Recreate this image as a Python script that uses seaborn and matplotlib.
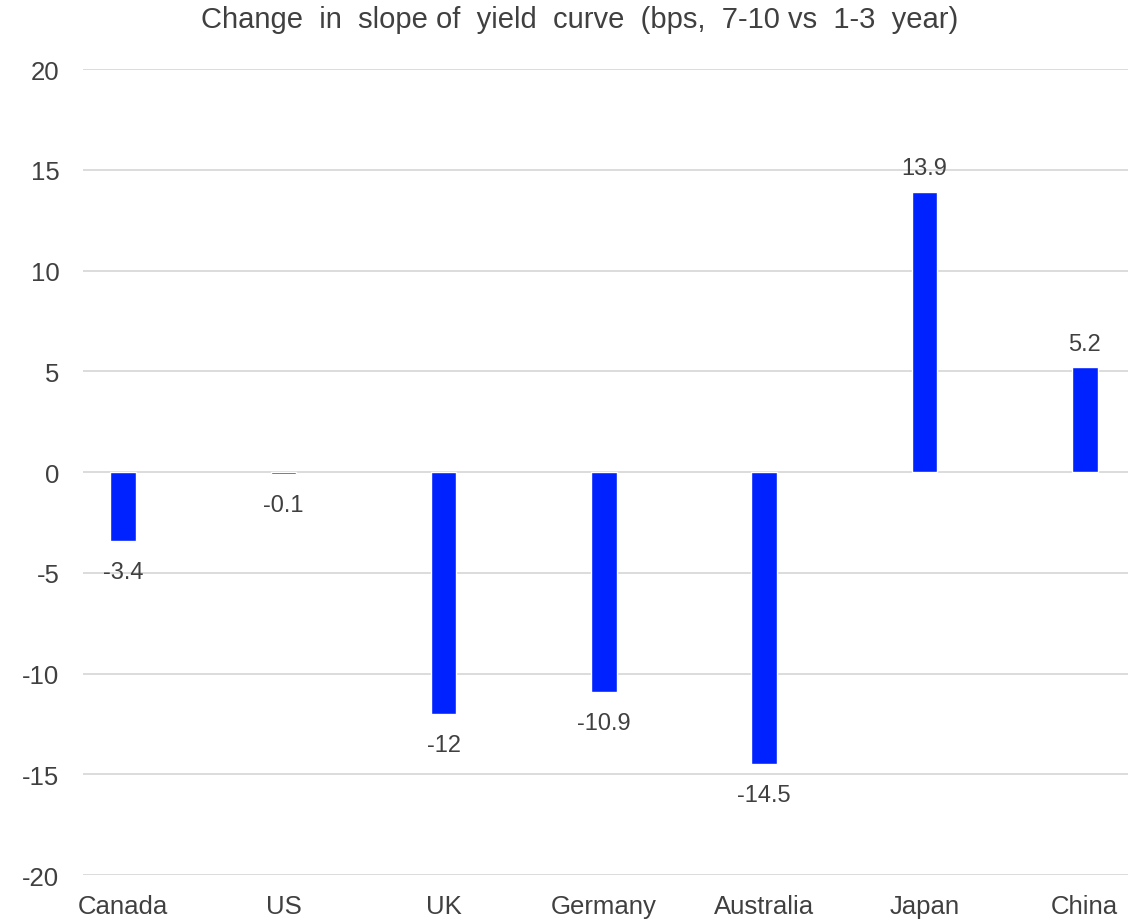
import matplotlib
matplotlib.use("Agg")
import matplotlib.pyplot as plt
import pandas as pd
import seaborn as sns

countries = ["Canada", "US", "UK", "Germany", "Australia", "Japan", "China"]
slope_change = [-3.4, -0.1, -12, -10.9, -14.5, 13.9, 5.2]
value_labels = ["-3.4", "-0.1", "-12", "-10.9", "-14.5", "13.9", "5.2"]
y_ticks = [-20, -15, -10, -5, 0, 5, 10, 15, 20]
title = "Change  in  slope of  yield  curve  (bps,  7-10 vs  1-3  year)"

TEXT = "#404040"
BAR = "#0022FF"


def plot_chart():
    df = pd.DataFrame({"country": countries, "change": slope_change})

    sns.set_style("white")
    plt.rcParams["font.family"] = ["Liberation Sans", "DejaVu Sans"]

    fig = plt.figure(figsize=(11.44, 9.2), dpi=100)
    ax = fig.add_axes([0.0726, 0.0478, 0.9134, 0.8761])

    sns.barplot(data=df, x="country", y="change", color=BAR, width=0.16,
                saturation=1, ax=ax, zorder=3)

    ax.set_ylim(-20, 20)
    ax.set_xlim(-0.25, 6.27)
    ax.set_yticks(y_ticks)
    ax.set_yticklabels([str(t) for t in y_ticks])
    ax.yaxis.grid(True, color="#D9D9D9", linewidth=1.3, zorder=0)
    ax.xaxis.grid(False)
    for s in ax.spines.values():
        s.set_visible(False)
    ax.tick_params(axis="y", length=0, pad=17, labelsize=18.5, labelcolor=TEXT)
    ax.tick_params(axis="x", length=0, pad=14, labelsize=18.5, labelcolor=TEXT)
    ax.set_xlabel("")
    ax.set_ylabel("")

    for i, (v, lab) in enumerate(zip(slope_change, value_labels)):
        if v < 0:
            ax.annotate(lab, (i, v), xytext=(0, -22.5), textcoords="offset points",
                        ha="center", va="center", fontsize=17, color=TEXT)
        else:
            ax.annotate(lab, (i, v), xytext=(0, 17), textcoords="offset points",
                        ha="center", va="center", fontsize=17, color=TEXT)

    fig.text(580 / 1144, 1 - 20 / 920, title,
             ha="center", va="center", fontsize=21, color=TEXT)

    fig.savefig("out.png", dpi=100)
    plt.close(fig)


if __name__ == "__main__":
    plot_chart()
